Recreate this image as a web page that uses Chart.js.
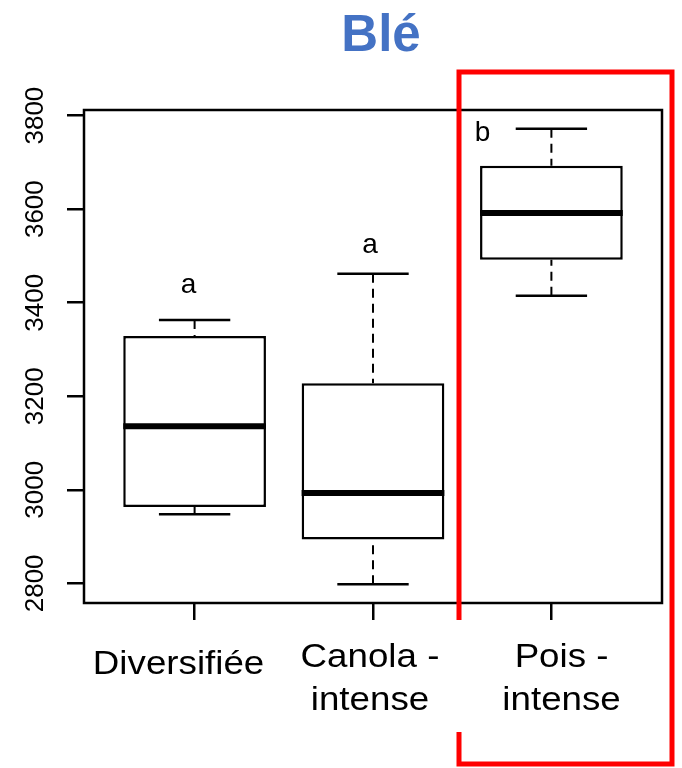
<!DOCTYPE html>
<html lang="fr">
<head>
  <meta charset="UTF-8">
  <title>Blé</title>
  <script src="https://cdn.jsdelivr.net/npm/chart.js"></script>
  <style>
    body { margin: 0; background: #ffffff; }
    #wrap { width: 682px; height: 768px; }
  </style>
</head>
<body>
  <div id="wrap"><canvas id="chart" width="682" height="768"></canvas></div>

  <script>
    // rotations (groupes) et statistiques des boîtes
    const categories = [['Diversifiée'], ['Canola -', 'intense'], ['Pois -', 'intense']];
    const categoryLabelX = [0.91, 1.983, 3.057];
    const whiskerLow = [2948, 2798, 3415];
    const q1 = [2963, 2894, 3492];
    const medians = [3136, 2993, 3592];
    const q3 = [3329, 3228, 3693];
    const whiskerHigh = [3363, 3462, 3772];

    // lettres de significativité (position en unités des axes)
    const groupLetters = ['a', 'a', 'b'];
    const letterX = [0.966, 1.983, 2.614];
    const letterY = [3421, 3507, 3746];

    const yTicks = [2800, 3000, 3200, 3400, 3600, 3800];
    const xTicks = [1, 2, 3];

    const FONT = "'Liberation Sans', Arial, sans-serif";
    Chart.defaults.font.family = FONT;
    Chart.defaults.color = '#000';

    const boxPlugin = {
      id: 'boxExtras',
      afterDatasetsDraw(chart) {
        const ctx = chart.ctx;
        const x = chart.scales.x, y = chart.scales.y;
        const bars = chart.getDatasetMeta(0).data;
        ctx.save();
        ctx.strokeStyle = '#000';
        bars.forEach((bar, i) => {
          const cx = x.getPixelForValue(xTicks[i]);
          const half = bar.width / 2;
          // moustaches en tirets
          ctx.lineWidth = 2;
          ctx.setLineDash([9, 6]);
          ctx.beginPath();
          ctx.moveTo(cx, y.getPixelForValue(whiskerHigh[i]));
          ctx.lineTo(cx, y.getPixelForValue(q3[i]));
          ctx.moveTo(cx, y.getPixelForValue(whiskerLow[i]));
          ctx.lineTo(cx, y.getPixelForValue(q1[i]));
          ctx.stroke();
          ctx.setLineDash([]);
          // extrémités
          ctx.lineWidth = 2.5;
          ctx.beginPath();
          [whiskerHigh[i], whiskerLow[i]].forEach(v => {
            const py = y.getPixelForValue(v);
            ctx.moveTo(cx - half / 2, py);
            ctx.lineTo(cx + half / 2, py);
          });
          ctx.stroke();
          // médiane
          ctx.lineWidth = 6;
          ctx.beginPath();
          const my = y.getPixelForValue(medians[i]);
          ctx.moveTo(cx - half, my);
          ctx.lineTo(cx + half, my);
          ctx.stroke();
          // lettre
          ctx.fillStyle = '#000';
          ctx.font = '28px ' + FONT;
          ctx.textAlign = 'center';
          ctx.textBaseline = 'alphabetic';
          ctx.fillText(groupLetters[i], x.getPixelForValue(letterX[i]), y.getPixelForValue(letterY[i]));
        });
        ctx.restore();
      },
      afterDraw(chart) {
        const ctx = chart.ctx;
        const a = chart.chartArea;
        const x = chart.scales.x;
        ctx.save();
        // cadre du graphique
        ctx.strokeStyle = '#000';
        ctx.lineWidth = 2.5;
        ctx.strokeRect(a.left, a.top, a.right - a.left, a.bottom - a.top);

        // étiquettes des groupes (texte un peu élargi comme l'original)
        ctx.fillStyle = '#000';
        ctx.font = '34px ' + FONT;
        ctx.textAlign = 'center';
        ctx.textBaseline = 'alphabetic';
        categories.forEach((lines, i) => {
          const px = x.getPixelForValue(categoryLabelX[i]);
          const first = a.bottom + (lines.length === 1 ? 71 : 64);
          lines.forEach((line, k) => {
            ctx.save();
            ctx.translate(px, first + k * 43);
            ctx.scale(1.08, 1);
            ctx.fillText(line, 0, 0);
            ctx.restore();
          });
        });

        // titre
        ctx.fillStyle = '#4472C4';
        ctx.font = 'bold 51px ' + FONT;
        ctx.fillText('Blé', 381, 51);

        // encadré rouge
        const L = 459, R = 672, T = 72, B = 764;
        ctx.strokeStyle = '#ff0000';
        ctx.lineWidth = 5;
        ctx.beginPath();
        ctx.moveTo(L, 620);
        ctx.lineTo(L, T);
        ctx.lineTo(R, T);
        ctx.lineTo(R, B);
        ctx.lineTo(L, B);
        ctx.lineTo(L, 732);
        ctx.stroke();
        ctx.restore();
      }
    };

    const ctx = document.getElementById('chart').getContext('2d');
    const chart = new Chart(ctx, {
      type: 'bar',
      data: {
        datasets: [{
          data: xTicks.map((v, i) => ({ x: v, y: [q1[i], q3[i]] })),
          backgroundColor: '#ffffff',
          borderColor: '#000000',
          borderWidth: 2.5,
          borderSkipped: false,
          categoryPercentage: 1,
          barPercentage: 0.8
        }]
      },
      options: {
        responsive: false,
        animation: false,
        layout: { padding: { top: 110, right: 20, bottom: 0, left: 0 } },
        plugins: { legend: { display: false }, title: { display: false }, tooltip: { enabled: false } },
        scales: {
          x: {
            type: 'linear',
            min: 0.38,
            max: 3.62,
            offset: false,
            border: { display: false },
            grid: { display: true, drawOnChartArea: false, drawTicks: true, offset: false, tickLength: 17, lineWidth: 2.5, color: '#000' },
            afterBuildTicks: s => { s.ticks = xTicks.map(v => ({ value: v })); },
            afterFit: s => { s.height = 165; },
            ticks: { display: false, autoSkip: false, maxRotation: 0 }
          },
          y: {
            min: 2758,
            max: 3812,
            border: { display: false },
            grid: { display: true, drawOnChartArea: false, drawTicks: true, tickLength: 17, lineWidth: 2.5, color: '#000' },
            afterBuildTicks: s => { s.ticks = yTicks.map(v => ({ value: v })); },
            afterFit: s => { s.width = 84; },
            ticks: {
              minRotation: 90,
              maxRotation: 90,
              crossAlign: 'center',
              padding: 2,
              font: { size: 26 },
              color: '#000',
              callback: v => String(v)
            }
          }
        }
      },
      plugins: [boxPlugin]
    });
  </script>
</body>
</html>
